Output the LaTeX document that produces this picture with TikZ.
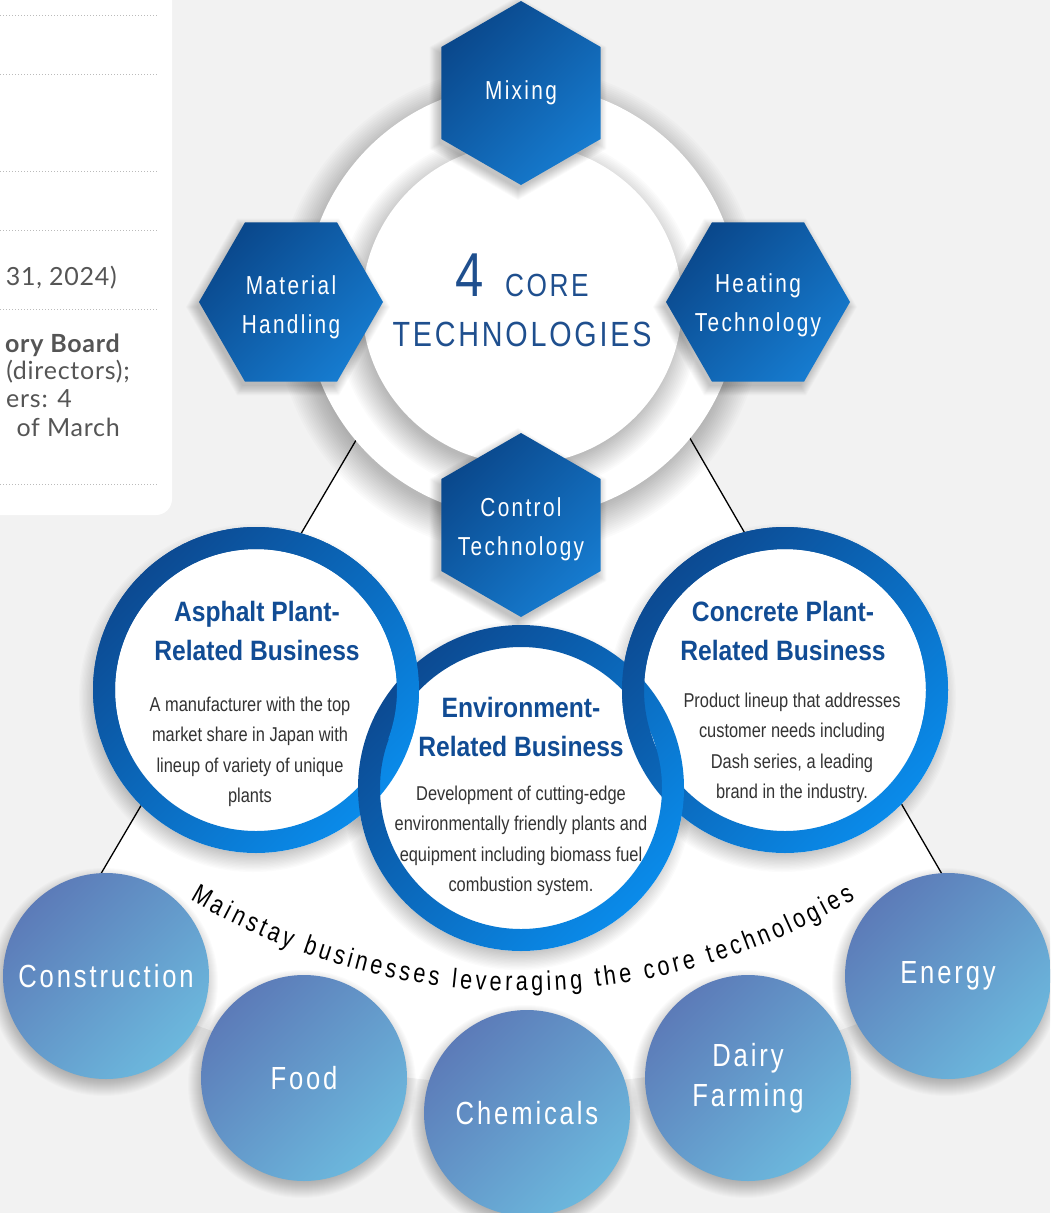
\documentclass[tikz,border=0pt]{standalone}
\usepackage{fontspec}
\setmainfont{Liberation Sans}
\newfontfamily\condf[FakeStretch=0.82]{Liberation Sans}
\newfontfamily\condsp[FakeStretch=0.8,LetterSpace=9]{Liberation Sans}
\newfontfamily\condt[FakeStretch=0.82,LetterSpace=8]{Liberation Sans}
\newfontfamily\titlef[FakeStretch=0.88]{Liberation Sans Bold}
\newfontfamily\descf[FakeStretch=0.82]{Liberation Sans}
\newfontfamily\curvef[FakeStretch=0.8]{Liberation Sans}
\newfontfamily\panelf[LetterSpace=3]{Lato}
\newcommand\curvefont{\curvef\fontsize{27}{27}\selectfont}
\usetikzlibrary{shapes.geometric,decorations.text}
\definecolor{bg}{HTML}{F2F2F2}
\definecolor{hexA}{HTML}{0A488C}
\definecolor{hexB}{HTML}{167BCF}
\definecolor{ringA}{HTML}{0C4A92}
\definecolor{ringB}{HTML}{0A8BEA}
\definecolor{botA}{HTML}{5C7BB8}
\definecolor{botB}{HTML}{6CB8DD}
\definecolor{titleblue}{HTML}{114C94}
\definecolor{coreblue}{HTML}{1F4F8E}
\definecolor{desctext}{HTML}{333333}
\definecolor{paneltext}{HTML}{555555}
\definecolor{dotcol}{HTML}{BBBBBB}
% soft shadow of a circle: node, radius, xshift, yshift, spread
\newcommand\circshadow[5]{%
  \foreach \k in {1,...,18}{\fill[black, opacity=0.016] ([xshift=#3, yshift=#4]#1.center) circle[radius={#2+#5*\k/18}];}}
% soft shadow of a hexagon: node, first corner angle, xshift, yshift
\newcommand\hexshadow[4]{%
  \foreach \k in {1,...,12}{\fill[black, opacity=0.02] ([xshift=#3, yshift=#4]#1.center)
    +(#2:{90+\k}) -- +(#2+60:{90+\k}) -- +(#2+120:{90+\k}) -- +(#2+180:{90+\k}) -- +(#2+240:{90+\k}) -- +(#2+300:{90+\k}) -- cycle;}}
\tikzset{
  hexbox/.style={regular polygon, regular polygon sides=6, minimum size=184pt, inner sep=0pt,
    shade, top color=hexA, bottom color=hexB, shading angle=45},
  hexup/.style={hexbox, shape border rotate=30},
  hexlabel/.style={text=white, align=center, inner sep=0pt, font=\condsp\fontsize{26}{39}\selectfont},
  whitedisc/.style={circle, minimum size=#1, inner sep=0pt, fill=white},
  ringshade/.style={even odd rule, top color=ringA, bottom color=ringB, shading angle=45},
  bizttl/.style={align=center, text=titleblue, inner sep=0pt, font=\titlef\fontsize{28}{38.5}\selectfont},
  bizdesc/.style={align=center, text=desctext, inner sep=0pt, font=\descf\fontsize{20}{30.4}\selectfont},
  botcirc/.style={circle, minimum size=206pt, inner sep=0pt, shade, top color=botA, bottom color=botB,
    shading angle=45, text=white, align=center, font=\condsp\fontsize{32}{40}\selectfont},
  paneltxt/.style={anchor=base east, inner sep=0pt, text=paneltext, font=\panelf\fontsize{25}{28}\selectfont},
  dotrule/.style={dotcol, line width=1pt, dash pattern=on 1pt off 2pt},
  coretxt/.style={inner sep=0pt, text=coreblue}
}
\begin{document}
\begin{tikzpicture}[x=1pt,y=-1pt]
\useasboundingbox (0,0) rectangle (1050,1213);
\clip (0,0) rectangle (1050,1213);
\fill[bg] (0,0) rectangle (1050,1213);

% left panel
\fill[white, rounded corners=16pt] (-40,-40) rectangle (172,515);
\foreach \yy in {15,74,171,230,309,484} \draw[dotrule] (0,\yy) -- (158,\yy);
\node[paneltxt] (p1) at (117,285) {31, 2024)};
\node[paneltxt, font=\panelf\bfseries\fontsize{25}{28}\selectfont] (p2) at (120,352) {ory Board};
\node[paneltxt] (p3) at (130,379) {(directors);};
\node[paneltxt] (p4) at (72,407) {ers: 4};
\node[paneltxt] (p5) at (120,436) {of March};

% white sector
\coordinate (apex) at (525,153);
\fill[white] (apex) -- ++(120.5:932) arc[start angle=120.5, end angle=60, radius=932] -- cycle;
\coordinate (lendL) at (59,945);
\coordinate (lendR) at (983,945);
\draw[black, line width=1.3pt] (apex) -- (lendL);
\draw[black, line width=1.3pt] (apex) -- (lendR);

% core
\coordinate (outerc) at (522,301);
\coordinate (innerc) at (522,304);
\circshadow{outerc}{210}{-3pt}{-9pt}{34}
\node[whitedisc=434pt] (outer) at (outerc) {};
\circshadow{innerc}{152}{-4pt}{-9pt}{30}
\node[whitedisc=320pt] (inner) at (innerc) {};

\coordinate (mixc) at (521,93);
\coordinate (matc) at (291,302);
\coordinate (heatc) at (758,302);
\coordinate (ctrlc) at (521,525);
\hexshadow{mixc}{30}{-3pt}{-5pt}
\hexshadow{matc}{0}{-3pt}{-5pt}
\hexshadow{heatc}{0}{-3pt}{-5pt}
\hexshadow{ctrlc}{30}{-3pt}{-5pt}
\node[hexup] (mix) at (mixc) {};
\node[hexbox] (mat) at (matc) {};
\node[hexbox] (heat) at (heatc) {};
\node[hexup] (ctrl) at (ctrlc) {};
\node[hexlabel] (mixL) at (mix.center) {Mixing};
\node[hexlabel] (matL) at ([yshift=-5pt]mat.center) {Material\\Handling};
\node[hexlabel] (heatL) at ([yshift=-3pt]heat.center) {Heating\\Technology};
\node[hexlabel] (ctrlL) at ([yshift=-4pt]ctrl.center) {Control\\Technology};

\node[coretxt, anchor=base, font=\condf\fontsize{62}{62}\selectfont] (four) at (470,296) {4};
\node[coretxt, anchor=base west, font=\condt\fontsize{32}{32}\selectfont] (core) at (505,296) {CORE};
\node[coretxt, anchor=base, font=\condt\fontsize{35}{35}\selectfont] (tech) at (522,346) {TECHNOLOGIES};

% business circles
\coordinate (aspc) at (256,690);
\coordinate (conc) at (785,690);
\coordinate (envc) at (521,788);
\circshadow{aspc}{150}{-3pt}{-8pt}{24}
\circshadow{conc}{150}{-3pt}{-8pt}{24}
\circshadow{envc}{150}{-3pt}{-8pt}{24}
\node[whitedisc=326pt] (asp) at (aspc) {};
\node[whitedisc=326pt] (con) at (conc) {};
\node[whitedisc=326pt] (env) at (envc) {};
\shade[ringshade] (asp.center) circle[radius=163] (asp.center) circle[radius=141];
\shade[ringshade] (con.center) circle[radius=163] (con.center) circle[radius=141];
\shade[ringshade] (env.center) circle[radius=163] (env.center) circle[radius=141];
\begin{scope}
  \clip (0,0) rectangle (1050,738);
  \shade[ringshade] (asp.center) circle[radius=163] (asp.center) circle[radius=141];
  \shade[ringshade] (con.center) circle[radius=163] (con.center) circle[radius=141];
\end{scope}

\node[bizttl] (aspT) at (257,631) {Asphalt Plant-\\Related Business};
\node[bizdesc] (aspD) at (250,752) {A manufacturer with the top\\market share in Japan with\\lineup of variety of unique\\plants};
\node[bizttl] (conT) at (783,631) {Concrete Plant-\\Related Business};
\node[bizdesc] (conD) at (792,748) {Product lineup that addresses\\customer needs including\\Dash series, a leading\\brand in the industry.};
\node[bizttl] (envT) at (521,727) {Environment-\\Related Business};
\node[bizdesc] (envD) at (521,841) {Development of cutting-edge\\environmentally friendly plants and\\equipment including biomass fuel\\combustion system.};

% curved text
\coordinate (tcen) at (522,341);
\path[decorate, decoration={text along path, text={|\curvefont|Mainstay businesses leveraging the core technologies}, text align={fit to path}}]
  (tcen) ++(120.7:650) arc[start angle=120.7, end angle=59.2, radius=650];

% bottom circles
\coordinate (consc) at (106,976);
\coordinate (foodc) at (304,1078);
\coordinate (chemc) at (527,1113);
\coordinate (dairyc) at (748,1078);
\coordinate (enerc) at (948,976);
\circshadow{consc}{96}{-2pt}{-6pt}{18}
\circshadow{foodc}{96}{-2pt}{-6pt}{18}
\circshadow{chemc}{96}{-2pt}{-6pt}{18}
\circshadow{dairyc}{96}{-2pt}{-6pt}{18}
\circshadow{enerc}{96}{-2pt}{-6pt}{18}
\node[botcirc] (cons) at (consc) {Construction};
\node[botcirc] (food) at (foodc) {Food};
\node[botcirc] (chem) at (chemc) {Chemicals};
\node[botcirc] (dairy) at (dairyc) {Dairy\\Farming};
\node[botcirc] (ener) at (enerc) {Energy};
\end{tikzpicture}
\end{document}
